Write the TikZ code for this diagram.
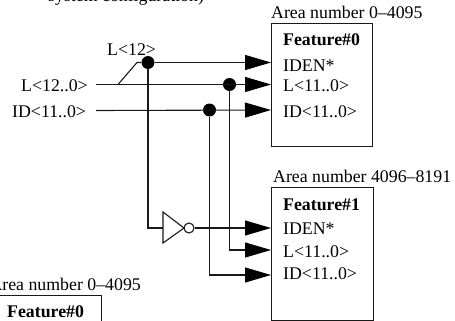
\documentclass[tikz,border=0pt]{standalone}
\usepackage{fontspec}
\setmainfont{Liberation Serif}
\usetikzlibrary{arrows.meta}
\tikzset{
  wire/.style={line width=1.1pt,black!90},
  sig/.style={wire,-{Triangle[length=26pt,width=15pt,black]}},
  dot/.style={circle,fill=black,inner sep=0pt,minimum size=13pt},
  lbl/.style={anchor=base west,inner sep=0pt,font=\fontsize{17.8}{18}\selectfont,text=black},
  lblb/.style={lbl,font=\fontsize{17.8}{18}\selectfont\bfseries},
  chip/.style={draw=black!90,line width=1.1pt,anchor=north west,inner sep=0pt,fill=white},
}
\begin{document}
\begin{tikzpicture}[x=1pt,y=-1pt]
\useasboundingbox (0,0) rectangle (455,321);
% boxes
\node[chip,minimum width=101pt,minimum height=123pt] (f0) at (271,23) {};
\node[chip,minimum width=102pt,minimum height=133pt] (f1) at (271,187) {};
\node[chip,minimum width=121pt,minimum height=60pt] (f2) at (-20,295) {};
% texts
\node[lbl] (captop) at (48,2) {system configuration)};
\node[lbl] (a0) at (271,19) {Area number 0–4095};
\node[lblb] (t0) at (283,46) {Feature\#0};
\node[lbl] (p01) at (283,71) {IDEN*};
\node[lbl] (p02) at (283,91) {L<11..0>};
\node[lbl] (p03) at (283,117) {ID<11..0>};
\node[lbl] (a1) at (273,182) {Area number 4096–8191};
\node[lblb] (t1) at (283,210) {Feature\#1};
\node[lbl] (p11) at (283,234) {IDEN*};
\node[lbl] (p12) at (283,257) {L<11..0>};
\node[lbl] (p13) at (283,279) {ID<11..0>};
\node[lbl,anchor=base east] (a2) at (141,290) {Area number 0–4095};
\node[lblb] (t2) at (7,317) {Feature\#0};
\node[lbl] (l12) at (107,56) {L<12>};
\node[lbl] (lbus) at (21,92) {L<12..0>};
\node[lbl] (idbus) at (12,117) {ID<11..0>};
% endpoints
\coordinate (i01) at (271,62.5);
\coordinate (i02) at (271,84.5);
\coordinate (i03) at (271,110);
\coordinate (i11) at (271,228);
\coordinate (i12) at (271,250);
\coordinate (i13) at (271,275);
\coordinate (lstart) at (96,84.5);
\coordinate (idstart) at (96,110.5);
\coordinate (tap) at (118,84.5);
\coordinate (bend) at (137,62.5);
% junctions
\node[dot] (d1) at (148,62.5) {};
\node[dot] (d2) at (229.5,84.5) {};
\node[dot] (d3) at (209.5,110) {};
% inverter
\coordinate (invtop) at (163,212);
\coordinate (invbot) at (163,243);
\coordinate (invtip) at (184,228);
\coordinate (invin) at (163,228);
\draw[wire,fill=white] (invtop) -- (invtip) -- (invbot) -- cycle;
\node[circle,draw=black!90,line width=1.1pt,inner sep=0pt,minimum size=10pt] (bub) at (189,228) {};
% wires
\draw[wire] (tap) -- (bend) -- (d1);
\draw[sig] (d1) -- (i01);
\draw[sig] (lstart) -- (i02);
\draw[sig] (idstart) -- (i03);
\draw[wire] (d1) -- (d1 |- invin) -- (invin);
\draw[sig] (bub) -- (i11);
\draw[sig] (d2) |- (i12);
\draw[sig] (d3) |- (i13);
\end{tikzpicture}
\end{document}
